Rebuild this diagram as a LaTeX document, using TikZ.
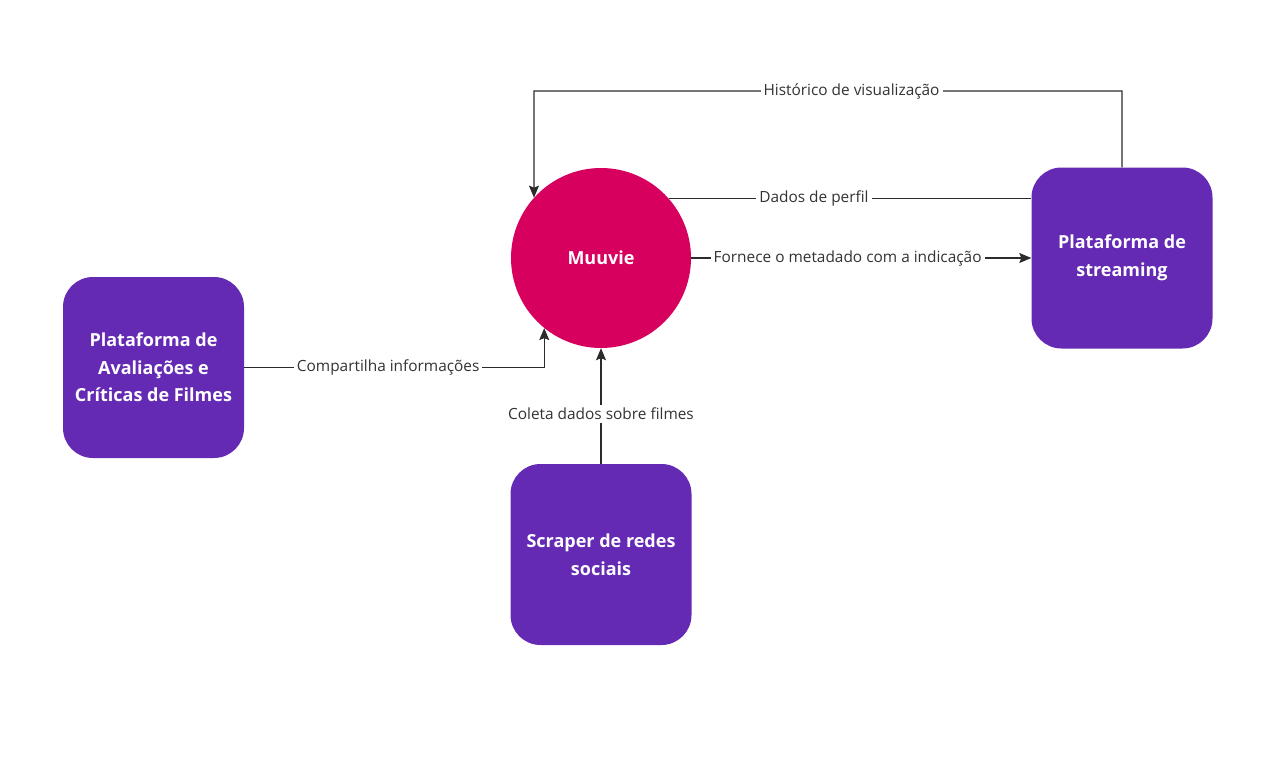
\documentclass[tikz,border=0pt]{standalone}
\usepackage{fontspec}
\setmainfont{Open Sans}
\usepackage{xcolor}
\usepackage{tikz}
\usetikzlibrary{arrows.meta}
\definecolor{ink}{HTML}{333333}
\definecolor{wire}{HTML}{2B2B2B}
\definecolor{purple}{HTML}{652AB4}
\definecolor{magenta}{HTML}{D7005E}
\tikzset{
  entity/.style={rectangle, rounded corners=30pt, fill=purple, minimum width=181pt, minimum height=181pt,
    text=white, font=\fontsize{18}{27.5}\selectfont\bfseries, align=center, inner sep=0pt},
  core/.style={circle, fill=magenta, minimum size=180pt, inner sep=0pt,
    text=white, font=\fontsize{18}{20}\selectfont\bfseries},
  flow/.style={draw=wire, line width=1.1pt},
  flowarrow/.style={flow, -{Stealth[length=12pt,width=10pt,inset=2pt]}},
  lab/.style={text=ink, fill=white, font=\fontsize{15.4}{17}\selectfont, inner sep=3pt},
}

\begin{document}
\begin{tikzpicture}[x=1pt,y=-1pt]
  \useasboundingbox (0,0) rectangle (1286,777);
  \node[core] (muuvie) at (601,258) {Muuvie};
  \node[entity] (stream) at (1122,258) {Plataforma de\\streaming};
  \node[entity] (critica) at (153.5,367.5) {Plataforma de\\Avaliações e\\Críticas de Filmes};
  \node[entity] (scraper) at (601,554.5) {Scraper de redes\\sociais};
  \coordinate (bendtop) at (534,91);
  % historico volta para o Muuvie
  \draw[flowarrow] (stream.north) |- node[lab,pos=0.73] {Histórico de visualização} (bendtop) -- (muuvie.138.2);
  \draw[flow] (muuvie.41.8) -- node[lab,pos=0.4] {Dados de perfil} (muuvie.41.8 -| stream.west);
  \draw[flowarrow] (muuvie.east) -- node[lab,pos=0.46] {Fornece o metadado com a indicação} (stream.west);
  \draw[flowarrow] (critica.east) -| node[lab,pos=0.24] {Compartilha informações} (muuvie.-129.3);
  \draw[flowarrow] (scraper.north) -- node[lab,pos=0.43] {Coleta dados sobre filmes} (muuvie.south);
\end{tikzpicture}
\end{document}
